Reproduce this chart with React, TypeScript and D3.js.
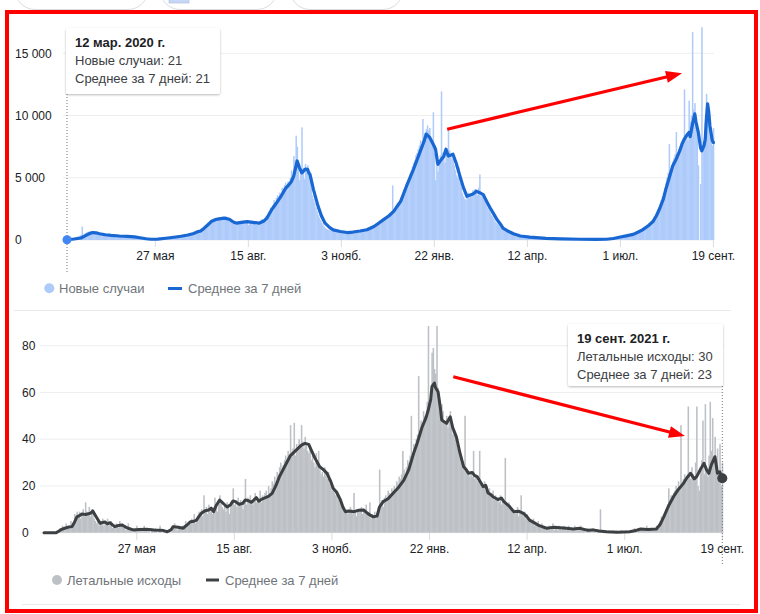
import React from 'react';
import * as d3 from 'd3';

const START = Date.UTC(2020, 2, 12);
const DAY = 86400000;
const dayDate = (d: number) => new Date(START + d * DAY);

const tickDates = ['2020-05-27', '2020-08-15', '2020-11-03', '2021-01-22', '2021-04-12', '2021-07-01', '2021-09-19'];
const tickLabels = ['27 мая', '15 авг.', '3 нояб.', '22 янв.', '12 апр.', '1 июл.', '19 сент.'];
const casesTicks = [0, 5000, 10000, 15000];
const casesTickLabels = ['0', '5 000', '10 000', '15 000'];
const deathsTicks = [0, 20, 40, 60, 80];
const deathsTickLabels = ['0', '20', '40', '60', '80'];

const casesLegend = ['Новые случаи', 'Среднее за 7 дней'];
const deathsLegend = ['Летальные исходы', 'Среднее за 7 дней'];
const casesTooltip = ['12 мар. 2020 г.', 'Новые случаи: 21', 'Среднее за 7 дней: 21'];
const deathsTooltip = ['19 сент. 2021 г.', 'Летальные исходы: 30', 'Среднее за 7 дней: 23'];

// daily new cases from 12 Mar 2020 to 19 Sep 2021
const casesDaily = [
  21,30,45,60,80,110,150,
  180,200,260,300,350,420,1080,
  420,520,560,620,650,700,680,
  700,720,600,650,560,620,540,
  500,460,480,420,400,380,420,
  360,330,400,350,310,360,330,
  320,300,340,280,310,290,270,
  290,260,270,240,280,230,250,
  230,250,200,220,180,170,150,
  140,120,110,100,90,80,70,
  60,65,55,50,60,70,65,
  80,90,85,100,110,120,130,
  140,150,160,170,180,200,210,
  220,240,250,270,290,300,320,
  330,350,340,370,390,400,420,
  450,480,520,560,600,640,690,
  720,780,830,880,940,1000,1100,
  1200,1300,1400,1350,1500,1600,1550,
  1700,1650,1800,1750,1850,1700,1800,
  1750,1900,1800,1700,1850,1750,1600,
  1500,1650,1300,1400,1450,1200,1350,
  1400,1500,1350,1450,1550,1400,1500,
  1450,1550,1200,1400,1500,1350,1300,
  1450,1350,1200,1400,1350,1500,1650,
  1700,1600,1800,1950,1750,2100,2300,
  2600,2400,2800,3200,3000,3400,3600,
  3300,3800,3700,4200,3900,4400,4600,
  4300,4700,4500,5000,5600,5200,6750,
  6400,8380,7500,6200,4800,5500,9050,
  5800,4900,6100,5600,6000,5200,4700,
  4200,3600,3300,3000,2600,2300,2000,
  1800,1600,1400,1250,1100,950,900,
  850,800,780,750,700,720,680,
  650,640,620,600,580,620,590,
  600,560,580,610,590,620,640,
  650,630,680,700,660,720,750,
  800,780,850,820,900,880,950,
  1000,980,1050,1100,1080,1150,1200,
  1250,1300,1400,1350,1500,1550,1650,
  1700,1800,1900,2000,2100,2200,2300,
  4380,2400,2600,2800,3000,2900,3200,
  3400,3500,3800,4100,4300,4500,4800,
  5000,5300,5500,5900,6200,6400,6800,
  7000,7300,7600,8000,7700,9720,8300,
  8600,8900,9200,8800,9000,8200,7600,
  10260,7000,4800,6000,5500,6200,6800,
  11940,7000,6500,6200,7000,6600,8920,
  7200,6800,6500,6900,6000,5600,5200,
  5000,5830,4600,4200,3800,3500,3300,
  3200,3600,3800,3400,3700,3500,4000,
  3800,4100,3900,3600,4200,5270,3500,
  3700,3500,3200,3000,2800,2600,2400,
  2200,2000,1900,1700,1500,1400,1300,
  1200,1100,1000,900,850,750,700,
  650,600,550,500,480,450,400,
  380,350,320,300,280,260,240,
  230,220,210,200,190,180,170,
  160,150,150,140,140,130,130,
  120,120,110,110,100,100,100,
  95,90,90,85,85,80,80,
  75,75,70,70,70,65,65,
  60,60,60,55,55,55,50,
  50,50,50,45,45,45,45,
  40,40,40,40,40,40,40,
  40,40,40,45,45,45,50,
  50,50,55,55,60,60,65,
  70,75,80,85,90,100,110,
  120,130,150,170,190,210,230,
  250,270,290,310,330,360,390,
  420,450,480,520,560,600,640,
  680,720,760,800,850,900,960,
  1050,1100,1200,1300,1400,1500,1600,
  1700,1900,2000,2200,2400,2600,2900,
  3200,3500,3800,4200,4600,5000,5400,
  7700,5600,6000,6300,6600,6900,8670,
  7000,7300,7500,7800,8000,8200,12100,
  8400,8600,8000,11200,9500,10000,16700,
  10500,11000,9800,8500,6000,0,4500,
  17100,7500,8200,9500,11750,11000,9500,
  8500,8000,7600,9000,
];

// 7-day average of cases, read as [day index, value]
const casesAvg: [number, number][] = [
  [0,21],[6,80],[12,160],[16,350],[19,500],[22,600],[25,580],[28,500],[33,420],[38,370],[45,320],[52,290],
  [58,250],[64,160],[68,100],[72,60],[78,70],[85,140],[92,220],[98,300],[104,400],[109,520],[112,650],[115,720],
  [118,950],[121,1200],[124,1480],[128,1650],[132,1720],[136,1760],[140,1650],[143,1450],[146,1350],[150,1420],
  [155,1480],[160,1420],[165,1350],[169,1500],[172,1760],[176,2430],[180,2950],[184,3500],[188,4150],[191,4450],
  [193,4700],[195,5130],[198,6350],[200,5800],[202,5400],[205,5700],[207,5670],[208,5400],[209,5270],[212,4050],
  [216,2700],[219,1900],[222,1350],[226,1000],[229,810],[235,680],[241,600],[246,640],[252,720],[258,820],
  [264,1080],[268,1350],[272,1620],[277,1950],[281,2300],[284,2700],[287,3100],[292,4320],[298,5670],[304,7160],
  [307,7900],[309,8510],[312,8240],[315,7700],[317,7290],[319,6080],[322,6480],[324,6700],[326,7290],[328,6750],
  [332,6890],[335,6100],[338,5130],[341,4200],[344,3510],[348,3650],[350,3750],[352,3920],[355,3800],[358,3650],
  [361,3100],[364,2570],[367,2100],[370,1620],[373,1250],[375,950],[380,680],[384,500],[390,320],[398,230],
  [412,130],[425,90],[441,60],[455,55],[464,60],[470,120],[475,220],[481,330],[487,450],[491,620],[495,810],
  [500,1150],[504,1480],[507,1950],[510,2570],[513,3300],[515,4050],[518,5000],[521,5940],[524,6500],[527,7160],
  [529,7700],[531,8100],[533,8400],[535,8650],[536,8300],[538,9300],[540,10130],[541,9500],[543,8650],[545,7400],
  [546,7160],[548,7600],[549,8100],[550,9800],[551,10940],[552,10300],[553,9180],[555,8000],[556,7830],
];

// daily deaths from 12 Mar 2020 to 19 Sep 2021
const deathsDaily = [
  0,0,0,0,0,0,0,
  0,0,0,0,1,0,2,
  1,3,2,1,4,2,3,
  2,5,3,4,8,6,9,
  7,9,6,8,10,7,13,
  9,8,11,7,10,9,6,
  5,4,6,3,5,4,6,
  3,5,4,6,3,4,5,
  2,3,2,4,3,2,5,
  3,4,2,3,1,2,4,
  1,2,1,0,2,1,3,
  1,2,1,2,1,3,2,
  1,2,1,0,2,1,1,
  2,1,0,1,3,1,0,
  1,0,0,1,0,1,0,
  3,2,4,2,1,3,2,
  2,3,1,2,5,3,4,
  5,4,6,5,8,4,6,
  7,9,8,10,7,16,9,
  11,8,12,9,10,8,11,
  15,12,9,14,16,13,11,
  10,12,9,13,11,8,12,
  13,19,12,14,11,15,13,
  14,12,10,13,23,12,15,
  13,16,14,12,15,17,13,
  15,14,18,13,16,15,17,
  18,16,20,17,19,22,21,
  24,22,26,25,28,30,27,
  29,31,33,30,35,32,46,
  34,36,47,33,38,35,40,
  37,46,39,36,41,38,35,
  34,37,31,33,30,28,34,
  29,35,27,25,26,24,28,
  25,23,26,21,20,18,19,
  17,16,18,14,15,13,12,
  11,10,9,10,8,9,11,
  10,8,17,9,7,10,9,
  9,11,8,10,9,12,8,
  7,13,6,8,7,9,6,
  8,10,27,12,14,11,15,
  16,14,18,17,15,19,18,
  20,17,22,21,24,23,25,
  35,27,24,28,31,30,33,
  50,34,38,36,40,42,67,
  44,48,46,52,50,49,56,
  95,55,60,77,79,70,68,
  95,62,58,50,55,52,48,
  47,50,45,48,52,46,42,
  44,40,38,36,35,33,30,
  29,28,50,26,27,25,24,
  26,24,35,23,25,22,24,
  35,21,20,19,22,18,20,
  17,19,16,15,18,14,16,
  15,14,13,16,12,14,13,
  32,12,11,13,10,11,9,
  10,8,9,11,7,9,16,
  8,7,9,6,8,5,6,
  5,4,6,3,4,3,5,
  3,2,4,3,2,1,2,
  2,3,1,2,4,1,2,
  2,1,3,2,1,2,3,
  2,1,2,3,1,2,1,
  2,3,1,2,1,2,3,
  1,2,1,0,2,1,1,
  1,0,2,1,1,0,1,
  0,10,0,1,0,0,1,
  0,1,0,0,1,0,0,
  1,0,0,0,1,0,0,
  0,1,0,1,0,0,1,
  1,2,1,0,2,1,2,
  1,2,2,1,3,1,2,
  2,1,2,1,2,3,2,
  4,5,7,6,8,9,10,
  12,19,14,16,15,17,18,
  20,17,22,19,46,21,23,
  25,22,24,54,26,23,28,
  25,22,30,54,20,18,27,
  31,48,25,55,28,24,33,
  56,35,49,30,41,28,36,
  25,38,20,30,
];

// 7-day average of deaths, read as [day index, value]
const deathsAvg: [number, number][] = [
  [0,0],[10,0],[14,1.3],[17,1.9],[20,2.4],[23,2.6],[25,4.5],[27,6.8],[29,7.3],[31,8],[34,7.8],[38,8.3],[40,9.3],
  [42,7.5],[46,4],[48,4.4],[50,4.6],[52,3.8],[54,4.3],[56,3.4],[58,2.6],[61,3.1],[64,3.3],[67,2.4],[69,1.9],[73,1.2],[78,1.4],[84,1.5],
  [90,1.2],[95,1.1],[98,0.9],[101,0.4],[104,1.2],[106,2.6],[110,2.3],[114,1.9],[117,3.2],[120,4.7],[123,4.9],
  [125,5.4],[127,7],[129,8.3],[132,9.4],[135,9.7],[137,10.5],[139,9],[141,11.5],[144,14],[147,12.5],[150,11],
  [153,12],[155,13.6],[157,13.3],[160,12.1],[163,12.6],[165,14],[167,13.8],[170,13],[172,14],[174,15],[176,13.5],[178,14.2],[180,14.7],[184,15.5],[187,16.8],
  [190,20],[193,24],[197,28],[202,33],[205,34.5],[208,36],[211,37.5],[214,38.2],[217,37.8],[219,35.4],[222,32],
  [226,28.2],[229,27],[232,25.4],[235,22],[237,19],[240,17.2],[243,14],[245,11],[247,9],[250,9.3],[254,9],
  [258,9.6],[262,9.7],[265,8.4],[267,7.6],[270,6.8],[273,7.1],[275,11],[278,13.3],[282,14.5],[286,16.8],[290,19],
  [295,22.5],[299,27],[303,34],[306,38.5],[310,45.3],[313,49],[315,52.5],[317,57],[318,62.5],[320,64],[321,62],
  [323,60.3],[325,53],[326,48.2],[328,47.5],[330,46.8],[333,49.6],[335,45],[338,41],[341,34],[344,28.2],[346,27],
  [348,25.4],[351,25.8],[353,24.4],[355,24],[358,21.5],[360,19.7],[362,20.3],[364,17],[366,16.4],[368,15.4],[372,14.2],[375,14.8],[377,13.3],[381,11.5],
  [385,9],[389,9.2],[393,8.3],[396,6.8],[398,5.4],[402,4.2],[406,3],[412,1.9],[418,2.3],[428,1.9],[434,1.6],
  [439,1.9],[445,1.1],[450,1.2],[455,0.7],[461,0.4],[470,0.2],[480,0.4],[485,0.9],[489,1.6],[495,1.4],[502,1.6],
  [505,3.5],[508,6.8],[512,11.5],[516,15.4],[520,18.5],[524,21],[527,23.5],[530,25.4],[533,23],[535,24],[538,27],
  [541,29.7],[543,27],[545,25.4],[547,29],[550,32.5],[552,25.4],[554,26],[556,23.3],
];

// red annotation arrows in data coordinates: [day, value]
const casesArrow: [number, number][] = [[327, 8900], [529, 13400]];
const deathsArrow: [number, number][] = [[335.5, 66.7], [525.4, 41.4]];

const FONT = "Arial, 'Liberation Sans', sans-serif";

function Arrow({ from, to }: { from: [number, number]; to: [number, number] }) {
  const dx = to[0] - from[0];
  const dy = to[1] - from[1];
  const len = Math.hypot(dx, dy);
  const ux = dx / len, uy = dy / len;
  const hl = 16, hw = 6;
  const bx = to[0] - ux * hl, by = to[1] - uy * hl;
  const pts = [
    [to[0], to[1]],
    [bx - uy * hw, by + ux * hw],
    [bx + uy * hw, by - ux * hw],
  ].map(p => p.join(',')).join(' ');
  return (
    <g>
      <line x1={from[0]} y1={from[1]} x2={bx + ux * 2} y2={by + uy * 2} stroke="#ff0000" strokeWidth={3.2} />
      <polygon points={pts} fill="#ff0000" />
    </g>
  );
}

function Tooltip({ x, y, w, h, lines }: { x: number; y: number; w: number; h: number; lines: string[] }) {
  return (
    <g>
      <rect x={x} y={y} width={w} height={h} rx={2} fill="#fff" filter="url(#shadow)" />
      {lines.map((t, i) => (
        <text key={i} x={x + 9} y={y + 19 + i * 18} fontSize={13} fontFamily={FONT}
          fontWeight={i === 0 ? 'bold' : 'normal'} fill={i === 0 ? '#202124' : '#3c4043'}>{t}</text>
      ))}
    </g>
  );
}

export default function App() {
  const n = casesDaily.length;
  const last = n - 1;
  const ticks = tickDates.map(s => new Date(s + 'T00:00:00Z'));

  // top chart (cases)
  const xT = d3.scaleUtc().domain([dayDate(0), dayDate(556)]).range([67, 713.4]);
  const yT = d3.scaleLinear().domain([0, 15000]).range([240, 53.3]);
  const wT = xT(dayDate(1)) - xT(dayDate(0));
  const lineT = d3.line<[number, number]>().x(p => xT(dayDate(p[0]))).y(p => yT(p[1]));

  // bottom chart (deaths)
  const xB = d3.scaleUtc().domain([dayDate(0), dayDate(556)]).range([44, 722.3]);
  const yB = d3.scaleLinear().domain([0, 80]).range([532.7, 345.7]);
  const wB = xB(dayDate(1)) - xB(dayDate(0));
  const lineB = d3.line<[number, number]>().x(p => xB(dayDate(p[0]))).y(p => yB(p[1]));

  const arrowT = casesArrow.map(p => [xT(dayDate(p[0])), yT(p[1])] as [number, number]);
  const arrowB = deathsArrow.map(p => [xB(dayDate(p[0])), yB(p[1])] as [number, number]);

  return (
    <svg width={760} height={614} style={{ position: 'absolute', left: 0, top: 0, background: '#fff' }}>
      <defs>
        <filter id="shadow" x="-10%" y="-10%" width="120%" height="130%">
          <feDropShadow dx="0" dy="1" stdDeviation="1.2" floodColor="#000" floodOpacity="0.28" />
        </filter>
        <clipPath id="clipB">
          <rect x={30} y={326} width={710} height={220} />
        </clipPath>
      </defs>
      <rect width={760} height={614} fill="#fff" />

      {/* partial buttons at top */}
      <rect x={15} y={-40} width={133} height={49.5} rx={20} fill="#fff" stroke="#dadce0" />
      <rect x={160} y={-40} width={117} height={49.5} rx={20} fill="#fff" stroke="#dadce0" />
      <rect x={169} y={-4} width={20} height={7} fill="#c6d7f7" stroke="#aab8d8" strokeWidth={0.6} />
      <rect x={290} y={-40} width={113} height={49.5} rx={20} fill="#fff" stroke="#dadce0" />

      {/* ===== top chart ===== */}
      {casesTicks.map((t, i) => (
        <g key={i}>
          <line x1={63} x2={714} y1={yT(t)} y2={yT(t)} stroke="#eeeeee" strokeWidth={1} />
          <text x={15} y={yT(t)} dy="0.35em" fontSize={12} fontFamily={FONT} fill="#202124">{casesTickLabels[i]}</text>
        </g>
      ))}
      {casesDaily.map((v, i) => (
        <rect key={i} x={xT(dayDate(i)) - wT / 2} y={yT(v)} width={wT + 0.35} height={yT(0) - yT(v)} fill="#aecbfa" />
      ))}
      {ticks.map((t, i) => (
        <g key={i}>
          <line x1={xT(t)} x2={xT(t)} y1={240} y2={247} stroke="#dadce0" />
          <text x={xT(t)} y={260} textAnchor="middle" fontSize={12} fontFamily={FONT} fill="#202124">{tickLabels[i]}</text>
        </g>
      ))}
      <path d={lineT(casesAvg) || ''} fill="none" stroke="#1967d2" strokeWidth={3.2} strokeLinejoin="round" strokeLinecap="round" />
      <line x1={xT(dayDate(0))} x2={xT(dayDate(0))} y1={94} y2={272} stroke="#777" strokeDasharray="1,2" />
      <circle cx={xT(dayDate(0))} cy={yT(casesDaily[0])} r={4.5} fill="#4285f4" />
      <Tooltip x={66} y={28} w={154} h={66} lines={casesTooltip} />

      {/* legend top */}
      <circle cx={49.3} cy={288.3} r={5} fill="#aecbfa" />
      <text x={59} y={293} fontSize={13} fontFamily={FONT} fill="#70757a">{casesLegend[0]}</text>
      <line x1={168} x2={182} y1={288.5} y2={288.5} stroke="#1967d2" strokeWidth={3} />
      <text x={188} y={293} fontSize={13} fontFamily={FONT} fill="#70757a">{casesLegend[1]}</text>
      <line x1={14} x2={731} y1={310.5} y2={310.5} stroke="#e8eaed" />

      {/* ===== bottom chart ===== */}
      {deathsTicks.map((t, i) => (
        <g key={i}>
          <line x1={40} x2={724} y1={yB(t)} y2={yB(t)} stroke="#eeeeee" strokeWidth={1} />
          <text x={22} y={yB(t)} dy="0.35em" fontSize={12} fontFamily={FONT} fill="#202124">{deathsTickLabels[i]}</text>
        </g>
      ))}
      <g clipPath="url(#clipB)">
        {deathsDaily.map((v, i) => (
          <rect key={i} x={xB(dayDate(i)) - wB / 2} y={yB(v)} width={wB + 0.35} height={yB(0) - yB(v)} fill="#bdc1c6" />
        ))}
      </g>
      {ticks.map((t, i) => (
        <g key={i}>
          <line x1={xB(t)} x2={xB(t)} y1={533} y2={540} stroke="#dadce0" />
          <text x={xB(t)} y={553} textAnchor="middle" fontSize={12} fontFamily={FONT} fill="#202124">{tickLabels[i]}</text>
        </g>
      ))}
      <path d={lineB(deathsAvg) || ''} fill="none" stroke="#3c4043" strokeWidth={3} strokeLinejoin="round" strokeLinecap="round" />
      <line x1={xB(dayDate(last))} x2={xB(dayDate(last))} y1={386} y2={564} stroke="#777" strokeDasharray="1,2" />
      <circle cx={xB(dayDate(last))} cy={yB(deathsAvg[deathsAvg.length - 1][1])} r={5} fill="#3c4043" />
      <Tooltip x={568} y={324} w={155} h={62} lines={deathsTooltip} />

      {/* legend bottom */}
      <circle cx={57} cy={580} r={5} fill="#bdc1c6" />
      <text x={67} y={584.5} fontSize={13} fontFamily={FONT} fill="#70757a">{deathsLegend[0]}</text>
      <line x1={206} x2={219} y1={580} y2={580} stroke="#3c4043" strokeWidth={3} />
      <text x={225} y={584.5} fontSize={13} fontFamily={FONT} fill="#70757a">{deathsLegend[1]}</text>
      <line x1={22} x2={740} y1={604.5} y2={604.5} stroke="#e8eaed" />

      {/* red annotations */}
      <Arrow from={arrowT[0]} to={arrowT[1]} />
      <Arrow from={arrowB[0]} to={arrowB[1]} />
      <rect x={7} y={12} width={749} height={599} fill="none" stroke="#ff0000" strokeWidth={4} />
    </svg>
  );
}
